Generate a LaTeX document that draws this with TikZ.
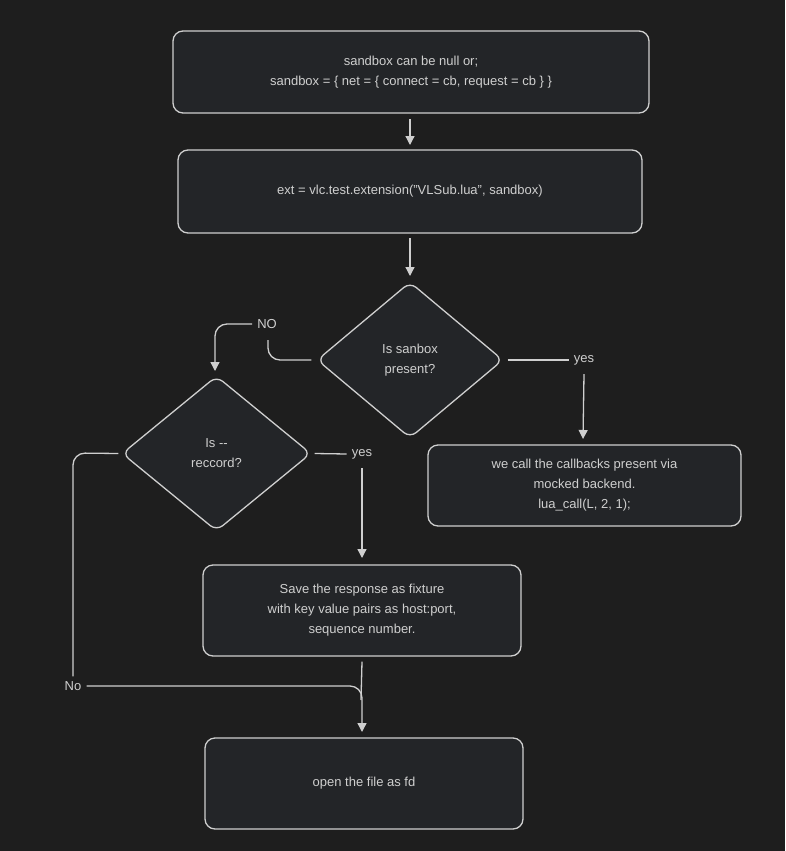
\documentclass[tikz,border=0pt]{standalone}
\usepackage{fontspec}
\setmainfont{Liberation Sans}
\usetikzlibrary{shapes.geometric,arrows.meta}
\definecolor{bg}{HTML}{1E1E1E}
\definecolor{fillc}{HTML}{232528}
\definecolor{linec}{HTML}{CFCFCF}
\begin{document}
\begin{tikzpicture}[x=1pt,y=-1pt,
  box/.style={draw=linec,fill=fillc,rounded corners=10pt,line width=1.3pt,text=linec,align=center,font=\fontsize{13}{20}\selectfont},
  dia/.style={draw=linec,fill=fillc,diamond,rounded corners=8pt,line width=1.3pt,text=linec,align=center,font=\fontsize{13}{20}\selectfont,inner sep=0pt},
  lbl/.style={text=linec,font=\fontsize{13}{14}\selectfont,inner sep=5pt},
  con/.style={draw=linec,line width=1.3pt,rounded corners=12pt},
  arr/.style={con,-{Triangle[length=9pt,width=9pt]}}]
\fill[bg] (0,0) rectangle (785,851);
\useasboundingbox (0,0) rectangle (785,851);
\node[box,minimum width=476pt,minimum height=82pt] (b1) at (411,72) {sandbox can be null or;\\sandbox = \{ net = \{ connect = cb, request = cb \} \}};
\node[box,minimum width=464pt,minimum height=83pt] (b2) at (410,191.5) {ext = vlc.test.extension("VLSub.lua", sandbox)};
\node[dia,minimum width=186pt,minimum height=156pt] (d1) at (410,360) {Is sanbox\\present?};
\node[box,minimum width=313pt,minimum height=81pt] (b3) at (584.5,485.5) {we call the callbacks present via\\mocked backend.\\lua\_call(L, 2, 1);};
\node[dia,minimum width=189pt,minimum height=155pt] (d2) at (216.5,453.5) {Is {-}{-}\\reccord?};
\node[box,minimum width=318pt,minimum height=91pt] (b4) at (362,610.5) {Save the response as fixture\\with key value pairs as host:port,\\sequence number.};
\node[box,minimum width=318pt,minimum height=91pt] (b5) at (364,783.5) {open the file as fd};
\node[lbl] (no1) at (267,324) {NO};
\node[lbl] (yes1) at (584,360) {yes};
\node[lbl] (yes2) at (362,454) {yes};
\node[lbl] (no2) at (73,686) {No};
\coordinate (t1) at (410,119);
\coordinate (t2) at (410,238);
\draw[arr] (t1) -- ++(0,26);
\draw[arr] (t2) -- ++(0,38);
\draw[con] (d1.west) ++(-5,0) -- (268,360) -- (268,340);
\draw[arr] (no1.west) -- (215,324) -- (215,371);
\draw[con] (d1.east) ++(4,0) -- (yes1.west);
\draw[arr] (yes1.south) ++(0,4) -- (583,439);
\draw[con] (d2.east) ++(3,0) -- (yes2.west);
\draw[arr] (yes2.south) ++(0,4) -- (362,558);
\draw[con] (d2.west) ++(-3,0) -- (73,453) -- (no2.north);
\draw[arr] (no2.east) -- (362,686) -- (362,732);
\draw[con] (b4.south) ++(0,5) -- (361,700);
\end{tikzpicture}
\end{document}
